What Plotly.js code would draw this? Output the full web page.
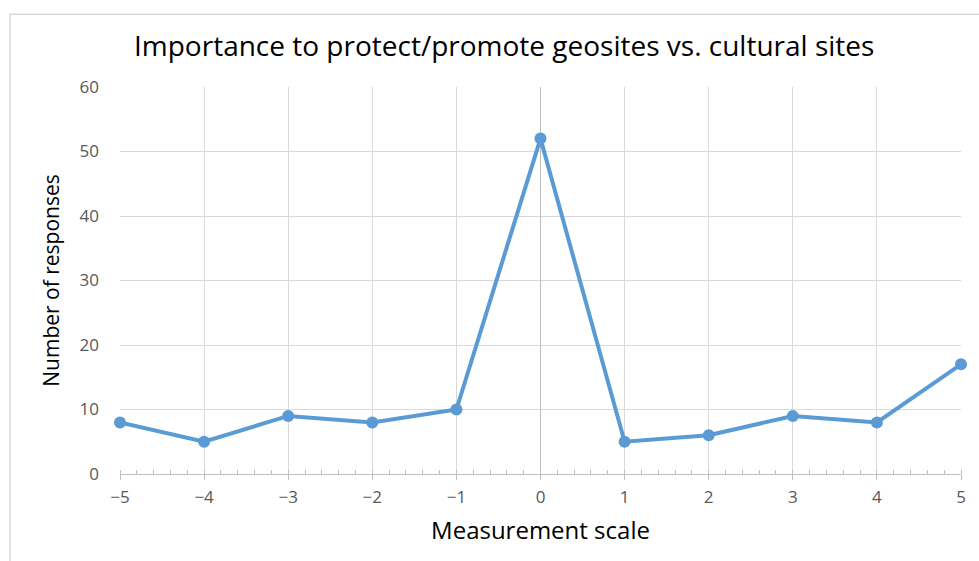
<!DOCTYPE html>
<html><head><meta charset="utf-8">
<script src="https://cdn.plot.ly/plotly-3.0.1.min.js"></script>
<style>body{margin:0;padding:0;background:#fff;}#chart{width:979px;height:561px;}</style>
</head><body><div id="chart"></div>
<script>
const scale = [-5, -4, -3, -2, -1, 0, 1, 2, 3, 4, 5];
const responses = [8, 5, 9, 8, 10, 52, 5, 6, 9, 8, 17];
const titleText = 'Importance to protect/promote geosites vs. cultural sites';
const xTitle = 'Measurement scale';
const yTitle = 'Number of responses';

const trace = {
  x: scale, y: responses, type: 'scatter', mode: 'lines+markers',
  line: {color: '#5b9bd5', width: 4},
  marker: {color: '#5b9bd5', size: 12},
  cliponaxis: false, hoverinfo: 'skip'
};
const layout = {
  width: 979, height: 561,
  margin: {l: 120, r: 18, t: 87, b: 87},
  paper_bgcolor: '#fff', plot_bgcolor: '#fff',
  showlegend: false,
  font: {family: 'Open Sans, sans-serif', color: '#595959'},
  title: {text: titleText, font: {size: 28, color: '#000', family: 'Open Sans, sans-serif'}, x: 0.515, xanchor: 'center', y: 0.918, yanchor: 'middle'},
  xaxis: {
    range: [-5, 5], dtick: 1, tick0: 0,
    showgrid: true, gridcolor: '#d9d9d9', gridwidth: 1,
    zeroline: true, zerolinecolor: '#bfbfbf', zerolinewidth: 1,
    showline: true, linecolor: '#bfbfbf', linewidth: 1,
    ticks: 'outside', ticklen: 5, tickcolor: '#bfbfbf', tickwidth: 1,
    minor: {dtick: 0.2, ticks: 'inside', ticklen: 4, tickcolor: '#bfbfbf', showgrid: false},
    tickfont: {size: 17, color: '#595959'}, ticklabelstandoff: 3,
    title: {text: xTitle, font: {size: 24, color: '#000'}, standoff: 14},
    fixedrange: true
  },
  yaxis: {
    range: [0, 60], dtick: 10,
    showgrid: true, gridcolor: '#d9d9d9', gridwidth: 1,
    zeroline: false, showline: false, ticks: '',
    tickfont: {size: 17, color: '#595959'}, ticklabelstandoff: 20,
    title: {text: yTitle, font: {size: 21, color: '#000'}, standoff: 14},
    fixedrange: true
  },
  shapes: [{
    type: 'rect', xref: 'paper', yref: 'paper',
    x0: -0.1308, x1: 1.2, y0: -0.4, y1: 1.188,
    line: {color: '#d9d9d9', width: 1.5}, fillcolor: 'rgba(0,0,0,0)', layer: 'below'
  }]
};
Plotly.newPlot('chart', [trace], layout, {displayModeBar: false, staticPlot: true});
</script></body></html>
